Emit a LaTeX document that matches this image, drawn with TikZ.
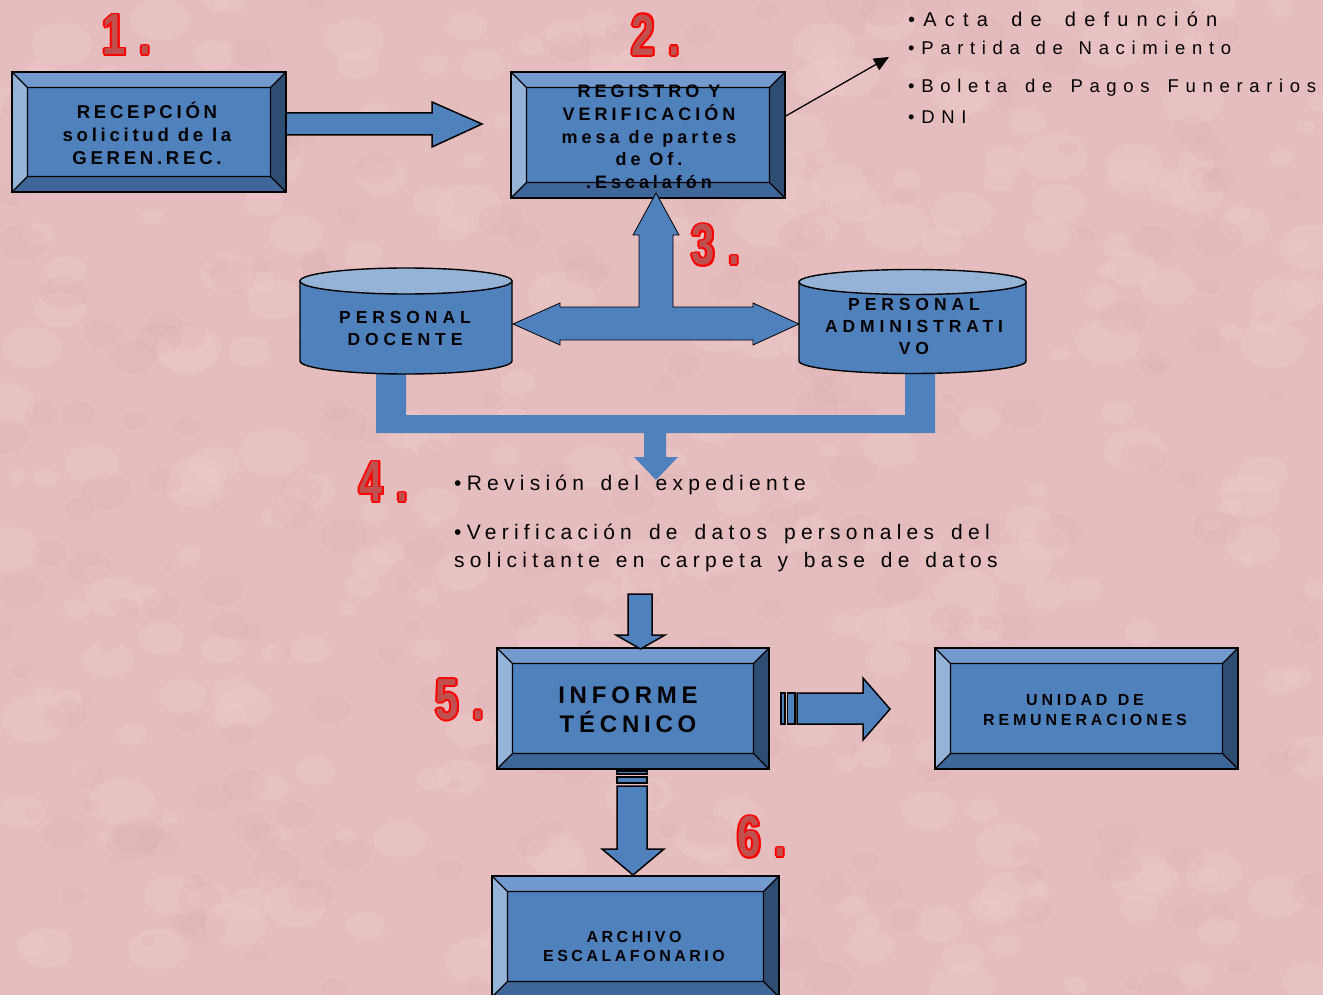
\documentclass[tikz,border=0pt]{standalone}
\usepackage{fontspec}
\setmainfont{Liberation Sans}
\usepackage{graphicx}
\usetikzlibrary{arrows.meta,calc}
\definecolor{bg}{RGB}{230,189,191}
\definecolor{face}{RGB}{79,129,189}
\definecolor{bevtop}{RGB}{114,154,207}
\definecolor{bevleft}{RGB}{149,179,215}
\definecolor{bevbot}{RGB}{63,102,153}
\definecolor{bevright}{RGB}{46,77,115}
\definecolor{cyltop}{RGB}{149,179,215}
\definecolor{numfill}{RGB}{192,80,77}
\definecolor{numred}{RGB}{255,0,0}
\definecolor{texlight}{RGB}{242,208,208}
\definecolor{texdark}{RGB}{218,172,176}
\newcommand\sk[1]{\ \hspace{#1}}
\newcommand\numglyph[1]{\scalebox{0.72}[1]{\fontsize{58}{58}\selectfont\bfseries #1\kern19pt.}}
\newcommand\ocopy[3]{\rlap{\kern#1\raisebox{#2}{\textcolor{numred}{\numglyph{#3}}}}}
\newcommand\numlab[1]{\ocopy{1.8pt}{0pt}{#1}\ocopy{-1.8pt}{0pt}{#1}\ocopy{0pt}{1.8pt}{#1}\ocopy{0pt}{-1.8pt}{#1}\ocopy{1.3pt}{1.3pt}{#1}\ocopy{1.3pt}{-1.3pt}{#1}\ocopy{-1.3pt}{1.3pt}{#1}\ocopy{-1.3pt}{-1.3pt}{#1}\textcolor{numfill}{\numglyph{#1}}}
\tikzset{
  bev/.style={draw=black, line width=1.5pt, fill=face, inner sep=0pt, align=center,
    path picture={
      \path (path picture bounding box.north west) coordinate (pp1)
            (path picture bounding box.north east) coordinate (pp2)
            (path picture bounding box.south east) coordinate (pp3)
            (path picture bounding box.south west) coordinate (pp4);
      \path ([shift={(15.5pt,-15.5pt)}]pp1) coordinate (qq1)
            ([shift={(-15.5pt,-15.5pt)}]pp2) coordinate (qq2)
            ([shift={(-15.5pt,15.5pt)}]pp3) coordinate (qq3)
            ([shift={(15.5pt,15.5pt)}]pp4) coordinate (qq4);
      \fill[bevtop] (pp1) -- (pp2) -- (qq2) -- (qq1) -- cycle;
      \fill[bevleft] (pp1) -- (qq1) -- (qq4) -- (pp4) -- cycle;
      \fill[bevbot] (pp4) -- (qq4) -- (qq3) -- (pp3) -- cycle;
      \fill[bevright] (pp2) -- (pp3) -- (qq3) -- (qq2) -- cycle;
      \draw[line width=1.3pt] (qq1) rectangle (qq3) (pp1) -- (qq1) (pp2) -- (qq2) (pp3) -- (qq3) (pp4) -- (qq4);
    }},
  btxt/.style={inner sep=0pt, align=center, text=black},
  arrA/.style={draw=black, line width=1.5pt, fill=face, line join=miter},
  arrB/.style={draw=black, line width=0.8pt, fill=face, line join=miter},
  cylline/.style={draw=black, line width=1.4pt},
  lst/.style={anchor=base west, inner sep=0pt, text=black},
  numsty/.style={inner sep=0pt}
}
\begin{document}
\begin{tikzpicture}[x=1pt,y=-1pt]
\useasboundingbox (0,0) rectangle (1323,995);
\fill[bg] (0,0) rectangle (1323,995);
% faint mottled background texture
\begin{scope}
\clip (0,0) rectangle (1323,995);
\pgfmathsetseed{4242}
\foreach \i in {1,...,300} {
  \pgfmathsetmacro\px{rnd*1323}\pgfmathsetmacro\py{rnd*995}\pgfmathsetmacro\pr{8+rnd*26}
  \fill[texlight, opacity=0.22] (\px,\py) ellipse [x radius=\pr pt, y radius=0.7*\pr pt];
}
\foreach \i in {1,...,260} {
  \pgfmathsetmacro\px{rnd*1323}\pgfmathsetmacro\py{rnd*995}\pgfmathsetmacro\pr{6+rnd*20}
  \fill[texdark, opacity=0.18] (\px,\py) ellipse [x radius=\pr pt, y radius=0.7*\pr pt];
}
\end{scope}

% U-shaped collector bar and arrow down
\fill[face] (376,360) -- (406,360) -- (406,415) -- (905,415) -- (905,360) -- (935,360) -- (935,433)
  -- (666,433) -- (666,457) -- (678,457) -- (656,480) -- (634,457) -- (644,457) -- (644,433) -- (376,433) -- cycle;

% cylinders
\draw[cylline, fill=face] (300,281) -- (300,361) arc[start angle=180, end angle=360, x radius=106pt, y radius=13pt] -- (512,281) -- cycle;
\draw[cylline, fill=cyltop] (406,281) ellipse [x radius=106pt, y radius=13pt];
\draw[cylline, fill=face] (799,282) -- (799,361) arc[start angle=180, end angle=360, x radius=113.5pt, y radius=12.5pt] -- (1026,282) -- cycle;
\draw[cylline, fill=cyltop] (912.5,282) ellipse [x radius=113.5pt, y radius=12.5pt];
\node[btxt, font={\bfseries\fontsize{17.5}{22}\selectfont\addfontfeature{LetterSpace=28}}] (c1) at (405,328.5) {PERSONAL\\DOCENTE};
\node[btxt, font={\bfseries\fontsize{17.5}{22}\selectfont\addfontfeature{LetterSpace=28}}] (c2) at (914,326.5) {PERSONAL\\ADMINISTRATI\\VO};

% bevel boxes
\node[bev, minimum width=274pt, minimum height=120pt] (b1) at (149,132) {};
\node[btxt, font={\bfseries\fontsize{18.6}{23}\selectfont\addfontfeature{LetterSpace=20}}] (b1t) at (147,133) {RECEPCIÓN\\solicitud de la\\GEREN.REC.};
\node[bev, minimum width=274pt, minimum height=126pt] (b2) at (648,135) {};
\node[btxt, font={\bfseries\fontsize{18}{22.7}\selectfont\addfontfeature{LetterSpace=22}}] (b2t) at (649,137) {REGISTRO Y\\VERIFICACIÓN\\mesa de partes\\de Of.\\.Escalafón};
\node[bev, minimum width=272pt, minimum height=121pt] (b5) at (633,708.5) {};
\node[btxt, font={\bfseries\fontsize{24}{29}\selectfont\addfontfeature{LetterSpace=20}}] (b5t) at (628,710) {INFORME\\TÉCNICO};
\node[bev, minimum width=303pt, minimum height=121pt] (b6) at (1086.5,708.5) {};
\node[btxt, font={\bfseries\fontsize{16}{20}\selectfont\addfontfeature{LetterSpace=24}}] (b6t) at (1085,710) {UNIDAD\sk{2pt}DE\\REMUNERACIONES};
\node[bev, minimum width=287pt, minimum height=121pt] (b7) at (635.5,936.5) {};
\node[btxt, font={\bfseries\fontsize{16}{19}\selectfont\addfontfeature{LetterSpace=22}}] (b7t) at (634,946) {ARCHIVO\\ESCALAFONARIO};

% T-shaped double arrow
\draw[arrB] (513,324) -- (560,303) -- (560,307) -- (639,307) -- (639,235) -- (633,235) -- (656,193) -- (679,235)
  -- (673,235) -- (673,307) -- (753,307) -- (753,303) -- (799,324) -- (753,345) -- (753,340) -- (560,340) -- (560,345) -- cycle;

% block arrows
\draw[arrA] (286,113) -- (432,113) -- (432,102) -- (482,124) -- (432,147) -- (432,135) -- (286,135) -- cycle;
\draw[arrA] (628,594) -- (652,594) -- (652,635) -- (665,635) -- (640.5,649) -- (616,635) -- (628,635) -- cycle;
\draw[arrA] (781,693) rectangle (785,724);
\draw[arrA] (787.5,693) rectangle (795,724);
\draw[arrA] (797,693) -- (863,693) -- (863,678) -- (890,709) -- (863,740) -- (863,724) -- (797,724) -- cycle;
\draw[arrA] (617,771) rectangle (647,774);
\draw[arrA] (617,777) rectangle (647,783);
\draw[arrA] (617,786) -- (647,786) -- (647,849) -- (664,849) -- (633,875) -- (602,849) -- (617,849) -- cycle;

% thin arrow to document list
\coordinate (lt) at (889,57);
\draw[line width=1.3pt, -{Triangle[length=15pt,width=13pt]}] ([yshift=19pt]b2.east) -- (lt);

% document list
\node[lst, font={\fontsize{20}{24}\selectfont\addfontfeature{LetterSpace=41}}] (l1) at (908,27) {•Acta\sk{9.5pt}de\sk{9.5pt}defunción};
\node[lst, font={\fontsize{18.5}{24}\selectfont\addfontfeature{LetterSpace=36}}] (l2) at (908,55) {•Partida\sk{4pt}de\sk{4pt}Nacimiento};
\node[lst, font={\fontsize{18.5}{24}\selectfont\addfontfeature{LetterSpace=36}}] (l3) at (908,93) {•Boleta\sk{6.3pt}de\sk{6.3pt}Pagos\sk{6.3pt}Funerarios};
\node[lst, font={\fontsize{18.5}{24}\selectfont\addfontfeature{LetterSpace=36}}] (l4) at (908,124) {•DNI};

% step 4 texts
\node[lst, font={\fontsize{21}{28}\selectfont\addfontfeature{LetterSpace=25}}] (t4a) at (454,490) {•Revisión\sk{5.5pt}del\sk{5.5pt}expediente};
\node[lst, font={\fontsize{21}{28}\selectfont\addfontfeature{LetterSpace=25}}] (t4b) at (454,539) {•Verificación\sk{6pt}de\sk{6pt}datos\sk{6pt}personales\sk{6pt}del};
\node[lst, font={\fontsize{21}{28}\selectfont\addfontfeature{LetterSpace=25}}] (t4c) at (454,567) {solicitante\sk{4.7pt}en\sk{4.7pt}carpeta\sk{4.7pt}y\sk{4.7pt}base\sk{4.7pt}de\sk{4.7pt}datos};

% step numbers
\node[numsty] (n1) at (127,35) {\numlab{1}};
\node[numsty] (n2) at (656,35) {\numlab{2}};
\node[numsty] (n3) at (716,245) {\numlab{3}};
\node[numsty] (n4) at (384,482) {\numlab{4}};
\node[numsty] (n5) at (460,700) {\numlab{5}};
\node[numsty] (n6) at (762,837) {\numlab{6}};
\end{tikzpicture}
\end{document}
